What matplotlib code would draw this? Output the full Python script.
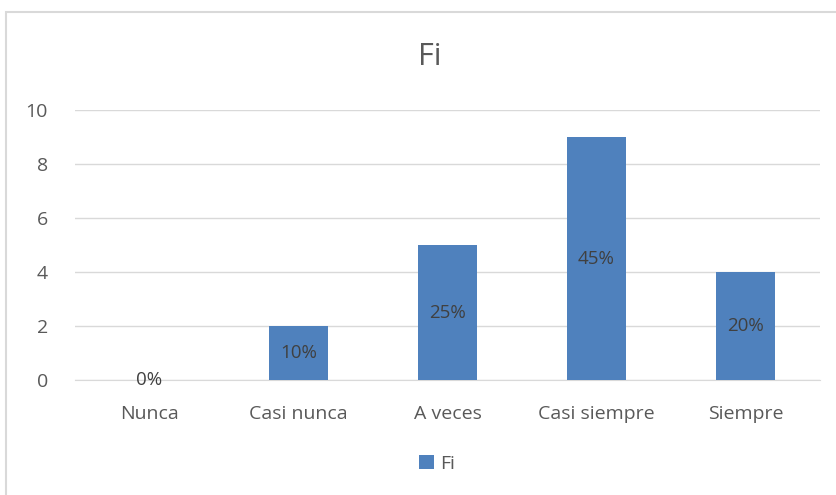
import matplotlib.pyplot as plt
from matplotlib.patches import Rectangle

categories = ['Nunca', 'Casi nunca', 'A veces', 'Casi siempre', 'Siempre']
fi = [0, 2, 5, 9, 4]
pct_labels = ['0%', '10%', '25%', '45%', '20%']
yticks = [0, 2, 4, 6, 8, 10]

plt.rcParams['font.family'] = ['Open Sans', 'DejaVu Sans']
text_color = '#595959'
bar_color = '#4F81BD'

W, H = 837, 495
fig = plt.figure(figsize=(W / 100, H / 100), dpi=100)
ax = fig.add_axes([75 / W, 1 - 380 / H, (820 - 75) / W, 270 / H])

x = list(range(len(categories)))
bars = ax.bar(x, fi, width=0.4, color=bar_color, zorder=3, label='Fi')
for xi, v, lab in zip(x, fi, pct_labels):
    ax.text(xi, v / 2, lab, ha='center', va='center', fontsize=13.5, color='#404040', zorder=4)

ax.set_xlim(-0.5, len(categories) - 0.5)
ax.set_ylim(0, 10)
ax.set_yticks(yticks)
ax.set_xticks(x)
ax.set_xticklabels(categories)
ax.yaxis.grid(True, color='#D9D9D9', linewidth=1)
ax.set_axisbelow(True)
for s in ['top', 'right', 'left']:
    ax.spines[s].set_visible(False)
ax.spines['bottom'].set_color('#D9D9D9')
ax.tick_params(axis='both', length=0, labelsize=14, labelcolor=text_color)
ax.tick_params(axis='y', pad=19.5)
ax.tick_params(axis='x', pad=18)

fig.text(430 / W, 1 - 57 / H, 'Fi', ha='center', va='center', fontsize=22, color=text_color)

fig.legend(handles=[bars], labels=['Fi'], loc='center', bbox_to_anchor=(437 / W, 1 - 464 / H),
           frameon=False, fontsize=14, labelcolor=text_color, handlelength=0.75,
           handleheight=0.75, handletextpad=0.3)

fig.patches.append(Rectangle((6 / W, -0.1), 1.2, 1.1 - 12 / H, transform=fig.transFigure,
                             fill=False, edgecolor='#D9D9D9', linewidth=1.5))

fig.savefig('out.png', dpi=100)
